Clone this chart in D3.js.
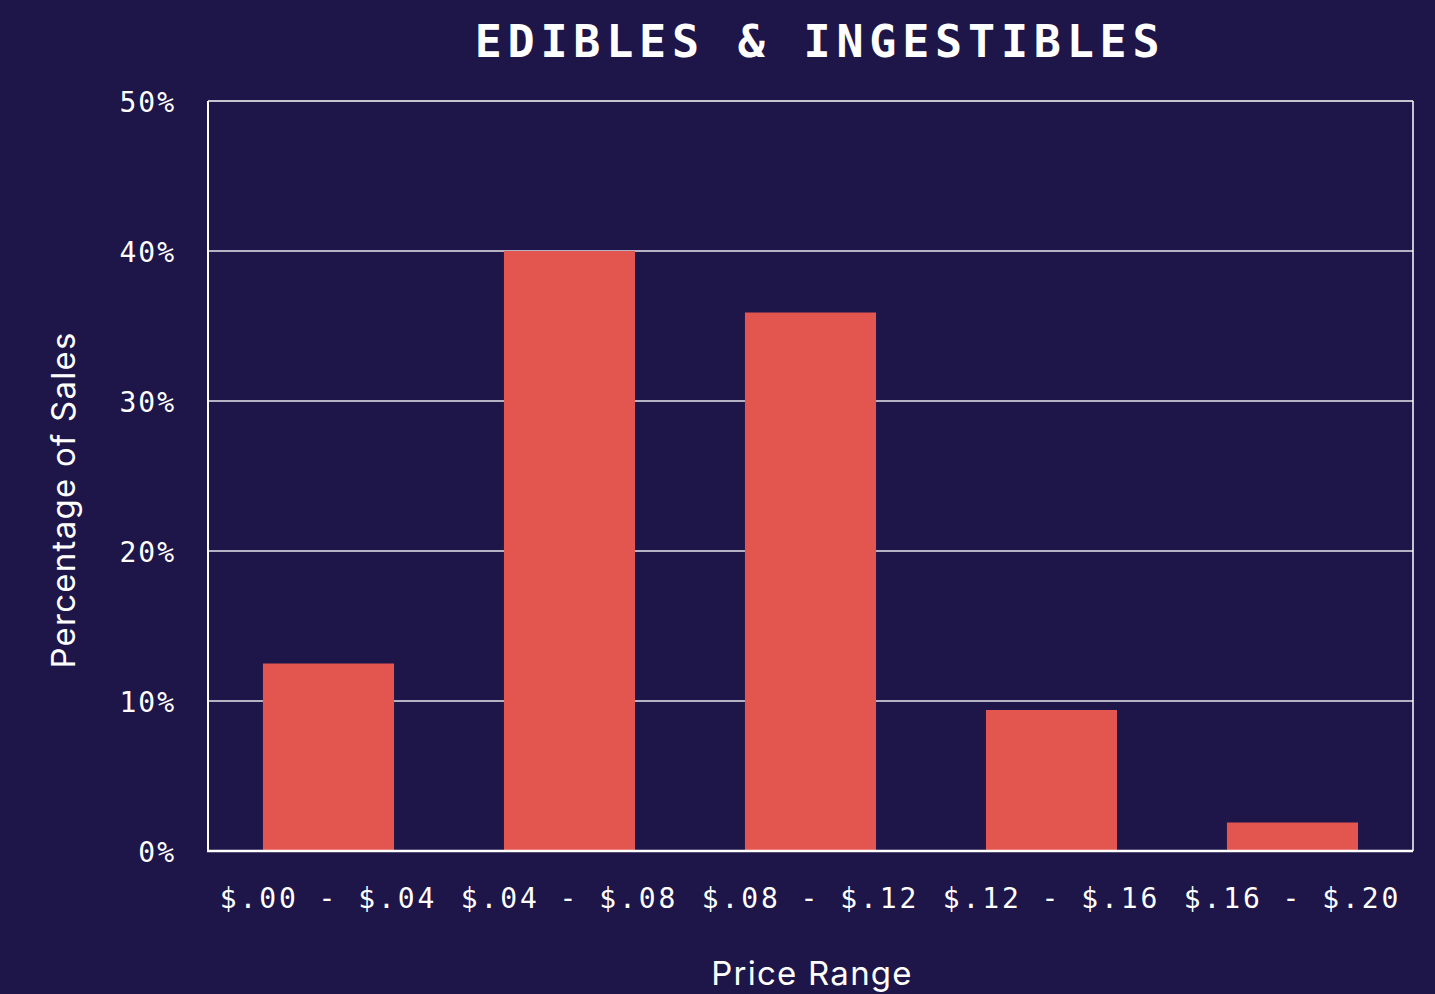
<!DOCTYPE html>
<html><head><meta charset="utf-8">
<script src="https://cdn.jsdelivr.net/npm/d3@7"></script>
<style>
html,body{margin:0;padding:0;background:#1e1549;}
svg{display:block;}
</style></head>
<body>
<svg id="chart" width="1435" height="994"></svg>
<script>
const categories = ["$.00 - $.04", "$.04 - $.08", "$.08 - $.12", "$.12 - $.16", "$.16 - $.20"];
const values = [12.5, 40.0, 35.9, 9.4, 1.9];
const yTicks = [0, 10, 20, 30, 40, 50];
const title = "EDIBLES & INGESTIBLES";
const xTitle = "Price Range";
const yTitle = "Percentage of Sales";

const W = 1435, H = 994;
const m = {left: 208, right: 1413, top: 101, bottom: 851};
const svg = d3.select("#chart");
svg.append("rect").attr("width", W).attr("height", H).attr("fill", "#1e1549");

const x = d3.scaleBand().domain(categories).range([m.left, m.right]).paddingInner(0.456).paddingOuter(0.228);
const y = d3.scaleLinear().domain([0, 50]).range([m.bottom, m.top]);

const mono = "'DejaVu Sans Mono', 'Liberation Mono', monospace";
const sans = "Inter, 'Noto Sans', sans-serif";

// gridlines
svg.append("g").selectAll("line").data(yTicks.filter(d => d > 0 && d < 50)).join("line")
  .attr("x1", m.left).attr("x2", m.right)
  .attr("y1", d => y(d)).attr("y2", d => y(d))
  .attr("stroke", "#ffffff").attr("stroke-width", 1.5).attr("opacity", 0.9);

// frame
svg.append("line").attr("x1", m.left).attr("x2", m.right).attr("y1", y(50)).attr("y2", y(50))
  .attr("stroke", "#fff").attr("stroke-width", 1.5);
svg.append("line").attr("x1", m.right).attr("x2", m.right).attr("y1", y(50)).attr("y2", y(0))
  .attr("stroke", "#fff").attr("stroke-width", 1.5);
svg.append("line").attr("x1", m.left).attr("x2", m.left).attr("y1", y(50)).attr("y2", y(0))
  .attr("stroke", "#fff").attr("stroke-width", 2);

// bars
svg.append("g").selectAll("rect").data(values).join("rect")
  .attr("x", (d, i) => x(categories[i]))
  .attr("width", x.bandwidth())
  .attr("y", d => y(d))
  .attr("height", d => y(0) - y(d))
  .attr("fill", "#e3554f");

// bottom axis line
svg.append("line").attr("x1", m.left - 1).attr("x2", m.right).attr("y1", y(0)).attr("y2", y(0))
  .attr("stroke", "#fff").attr("stroke-width", 2.5);

// y axis labels
const yAxis = d3.axisLeft(y).tickValues(yTicks).tickFormat(d => d + "%").tickSize(0).tickPadding(32);
const ya = svg.append("g").attr("transform", `translate(${m.left},0)`).call(yAxis);
ya.select(".domain").remove();
ya.selectAll("text").attr("fill", "#fff").attr("font-family", mono).attr("font-size", 28)
  .attr("letter-spacing", "2px").attr("dy", "0.36em");

// x axis labels
const xAxis = d3.axisBottom(x).tickSize(0).tickPadding(37);
const xa = svg.append("g").attr("transform", `translate(0,${m.bottom})`).call(xAxis);
xa.select(".domain").remove();
xa.selectAll("text").attr("fill", "#fff").attr("font-family", mono).attr("font-size", 28)
  .attr("letter-spacing", "2.9px").attr("dy", "0.71em");

// title
svg.append("text").attr("x", 820).attr("y", 57).attr("text-anchor", "middle")
  .attr("fill", "#fff").attr("font-family", mono).attr("font-weight", "bold")
  .attr("font-size", 45).attr("letter-spacing", "5.8px").text(title);

// axis titles
svg.append("text").attr("x", 812).attr("y", 985).attr("text-anchor", "middle")
  .attr("fill", "#fff").attr("font-family", sans).attr("font-size", 33)
  .attr("letter-spacing", "1.25px").text(xTitle);
svg.append("text").attr("transform", "translate(75,500) rotate(-90)").attr("text-anchor", "middle")
  .attr("fill", "#fff").attr("font-family", sans).attr("font-size", 33)
  .attr("letter-spacing", "1.25px").text(yTitle);
</script>
</body></html>
